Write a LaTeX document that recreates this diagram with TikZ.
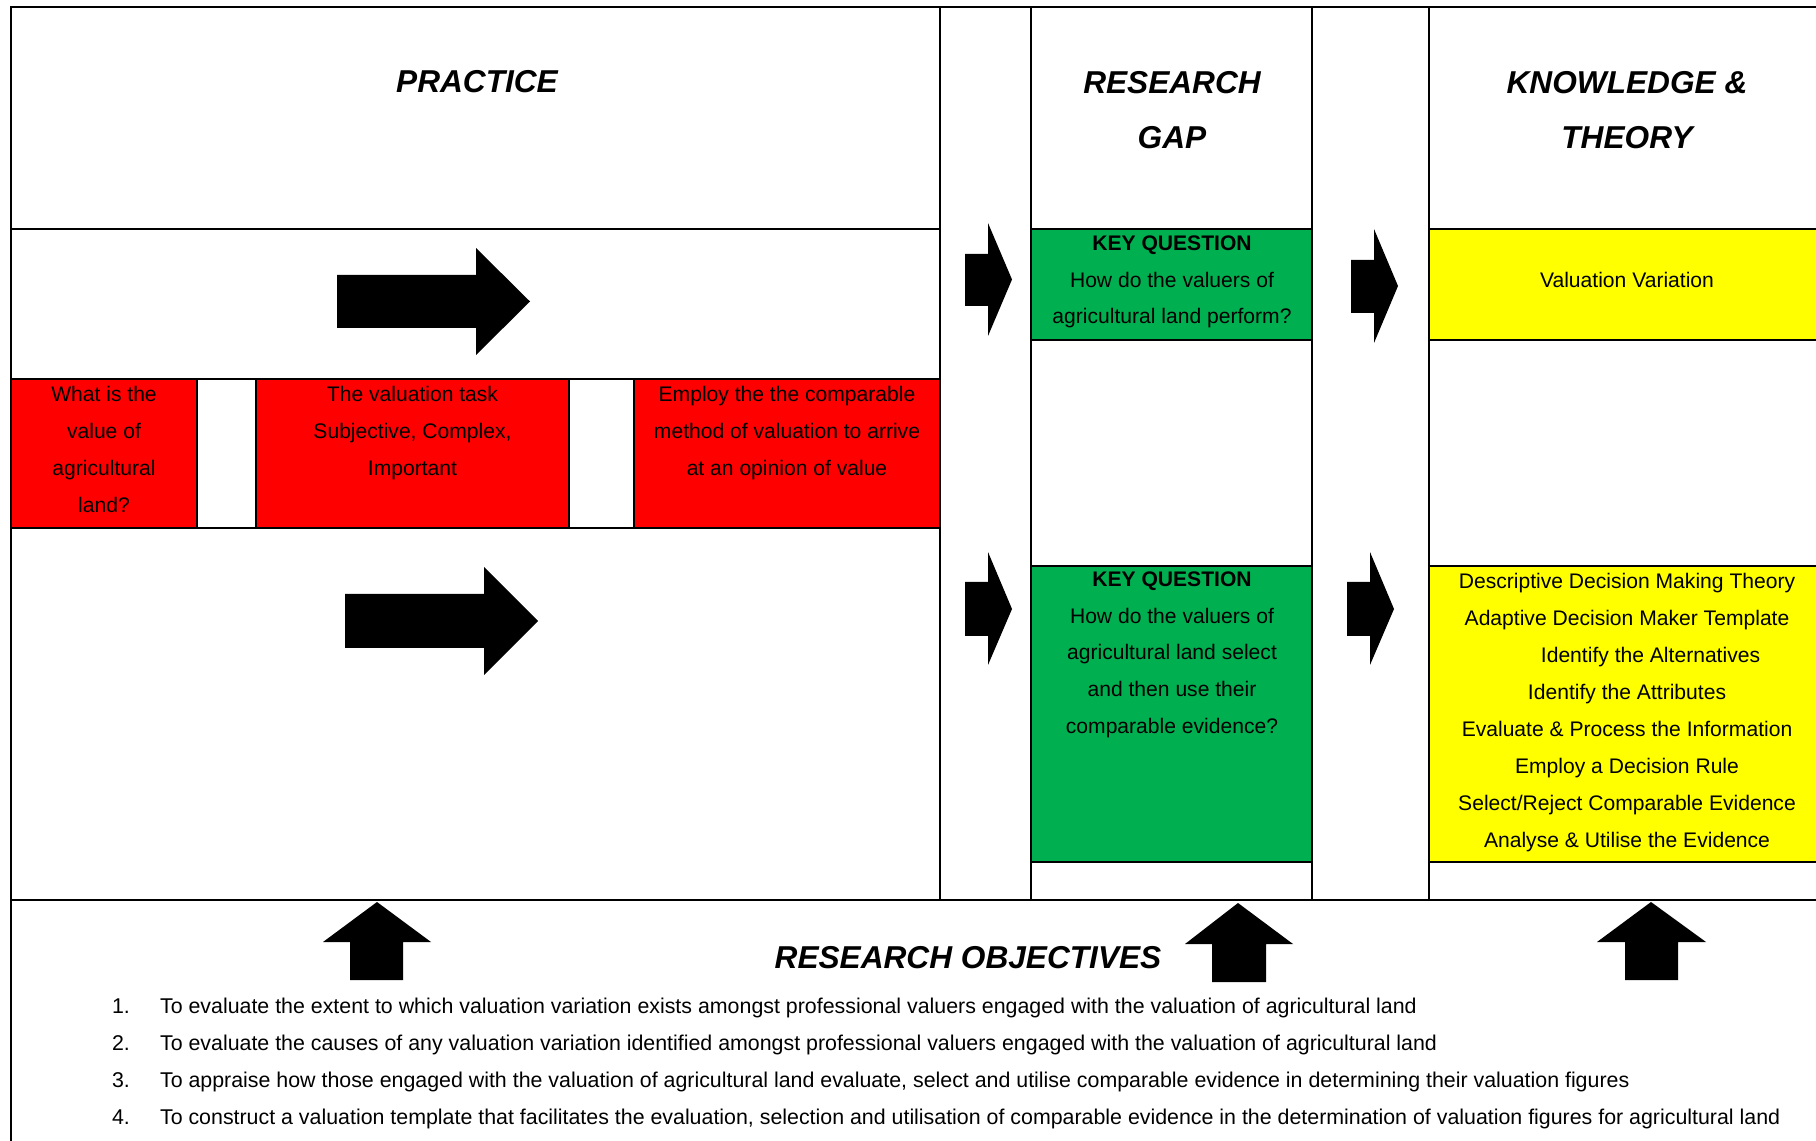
\documentclass[tikz,border=0pt]{standalone}
\usepackage{fontspec}
\setmainfont{Liberation Sans}
\usepackage{xcolor}
\usepackage{tikz}
\usetikzlibrary{positioning}

\definecolor{keygreen}{HTML}{00B050}
\definecolor{taskred}{HTML}{FF0000}
\definecolor{theoryyellow}{HTML}{FFFF00}

\begin{document}
\begin{tikzpicture}[line width=0.6pt,
    head/.style = {font=\fontsize{9}{15.5}\selectfont\bfseries\itshape, align=center, inner sep=0},
    body/.style = {font=\fontsize{6}{10.5}\selectfont, align=center, inner sep=0, anchor=north},
    item/.style = {font=\fontsize{6.08}{10.5}\selectfont, inner sep=0, anchor=base west},
    blk/.style = {fill=black}]
    \useasboundingbox (0,0) rectangle (18.16,-11.41);
    \fill[white] (0,0) rectangle (18.16,-11.41);

    % coloured cells
    \fill[taskred] (0.11,-3.79) rectangle (1.97,-5.28);
    \fill[taskred] (2.56,-3.79) rectangle (5.69,-5.28);
    \fill[taskred] (6.34,-3.79) rectangle (9.40,-5.28);
    \fill[keygreen] (10.31,-2.29) rectangle (13.12,-3.40);
    \fill[keygreen] (10.31,-5.66) rectangle (13.12,-8.62);
    \fill[theoryyellow] (14.29,-2.29) rectangle (18.16,-3.40);
    \fill[theoryyellow] (14.29,-5.66) rectangle (18.16,-8.62);

    % grid lines
    \draw (18.16,-0.07) -- (0.11,-0.07) -- (0.11,-11.41);
    \draw (0.11,-9.00) -- (18.16,-9.00);
    \foreach \x in {9.40,10.31,13.12,14.29}
        \draw (\x,-0.07) -- (\x,-9.00);
    \foreach \y in {2.29,3.79,5.28}
        \draw (0.11,-\y) -- (9.40,-\y);
    \foreach \x in {1.97,2.56,5.69,6.34}
        \draw (\x,-3.79) -- (\x,-5.28);
    \foreach \y in {2.29,3.40,5.66,8.62}
        \draw (10.31,-\y) -- (13.12,-\y) (14.29,-\y) -- (18.16,-\y);

    % headings
    \node[head] (practice) at (4.77,-0.82) {PRACTICE};
    \node[head, anchor=north] (gap) at (11.72,-0.707) {RESEARCH\\GAP};
    \node[head, anchor=north] (theory) at (16.27,-0.707) {KNOWLEDGE \&\\THEORY};

    % practice row
    \node[body] (land) at (1.04,-3.854) {What is the\\value of\\agricultural\\land?};
    \node[body] (task) at (4.125,-3.854) {The valuation task\\Subjective, Complex,\\Important};
    \node[body] (method) at (7.87,-3.854) {Employ the the comparable\\method of valuation to arrive\\at an opinion of value};

    % key questions
    \node[body] (kq1) at (11.72,-2.344) {\textbf{KEY QUESTION}\\How do the valuers of\\agricultural land perform?};
    \node[body] (kq2) at (11.72,-5.704) {\textbf{KEY QUESTION}\\How do the valuers of\\agricultural land select\\and then use their\\comparable evidence?};

    % theory
    \node[body, anchor=center] (variation) at (16.27,-2.80) {Valuation Variation};
    \node[body] (decision) at (16.27,-5.724) {Descriptive Decision Making Theory\\Adaptive Decision Maker Template\\\hspace*{0.47cm}Identify the Alternatives\\Identify the Attributes\\Evaluate \& Process the Information\\Employ a Decision Rule\\Select/Reject Comparable Evidence\\Analyse \& Utilise the Evidence};

    % block arrows
    \fill[blk] (3.37,-2.75) -- (4.76,-2.75) -- (4.76,-2.48) -- (5.30,-3.015) -- (4.76,-3.55) -- (4.76,-3.28) -- (3.37,-3.28) -- cycle;
    \fill[blk] (3.45,-5.94) -- (4.84,-5.94) -- (4.84,-5.67) -- (5.38,-6.21) -- (4.84,-6.75) -- (4.84,-6.48) -- (3.45,-6.48) -- cycle;
    \fill[blk] (9.65,-2.54) -- (9.88,-2.54) -- (9.88,-2.23) -- (10.12,-2.795) -- (9.88,-3.36) -- (9.88,-3.06) -- (9.65,-3.06) -- cycle;
    \fill[blk] (9.65,-5.82) -- (9.88,-5.82) -- (9.88,-5.52) -- (10.12,-6.09) -- (9.88,-6.65) -- (9.88,-6.36) -- (9.65,-6.36) -- cycle;
    \fill[blk] (13.51,-2.60) -- (13.74,-2.60) -- (13.74,-2.29) -- (13.98,-2.86) -- (13.74,-3.43) -- (13.74,-3.13) -- (13.51,-3.13) -- cycle;
    \fill[blk] (13.47,-5.82) -- (13.70,-5.82) -- (13.70,-5.52) -- (13.94,-6.09) -- (13.70,-6.65) -- (13.70,-6.36) -- (13.47,-6.36) -- cycle;
    \fill[blk] (3.77,-9.02) -- (4.31,-9.42) -- (4.03,-9.42) -- (4.03,-9.80) -- (3.50,-9.80) -- (3.50,-9.42) -- (3.23,-9.42) -- cycle;
    \fill[blk] (12.38,-9.03) -- (12.93,-9.44) -- (12.66,-9.44) -- (12.66,-9.82) -- (12.12,-9.82) -- (12.12,-9.44) -- (11.85,-9.44) -- cycle;
    \fill[blk] (16.51,-9.02) -- (17.06,-9.42) -- (16.78,-9.42) -- (16.78,-9.80) -- (16.25,-9.80) -- (16.25,-9.42) -- (15.97,-9.42) -- cycle;

    % objectives
    \node[head] (objectives) at (9.68,-9.577) {RESEARCH OBJECTIVES};
    \node[item] (n1) at (1.11,-10.13) {1.};
    \node[item] (n2) at (1.11,-10.50) {2.};
    \node[item] (n3) at (1.11,-10.87) {3.};
    \node[item] (n4) at (1.11,-11.24) {4.};
    \node[item] (o1) at (1.59,-10.13) {To evaluate the extent to which valuation variation exists amongst professional valuers engaged with the valuation of agricultural land};
    \node[item] (o2) at (1.59,-10.50) {To evaluate the causes of any valuation variation identified amongst professional valuers engaged with the valuation of agricultural land};
    \node[item] (o3) at (1.59,-10.87) {To appraise how those engaged with the valuation of agricultural land evaluate, select and utilise comparable evidence in determining their valuation figures};
    \node[item] (o4) at (1.59,-11.24) {To construct a valuation template that facilitates the evaluation, selection and utilisation of comparable evidence in the determination of valuation figures for agricultural land};
\end{tikzpicture}
\end{document}
